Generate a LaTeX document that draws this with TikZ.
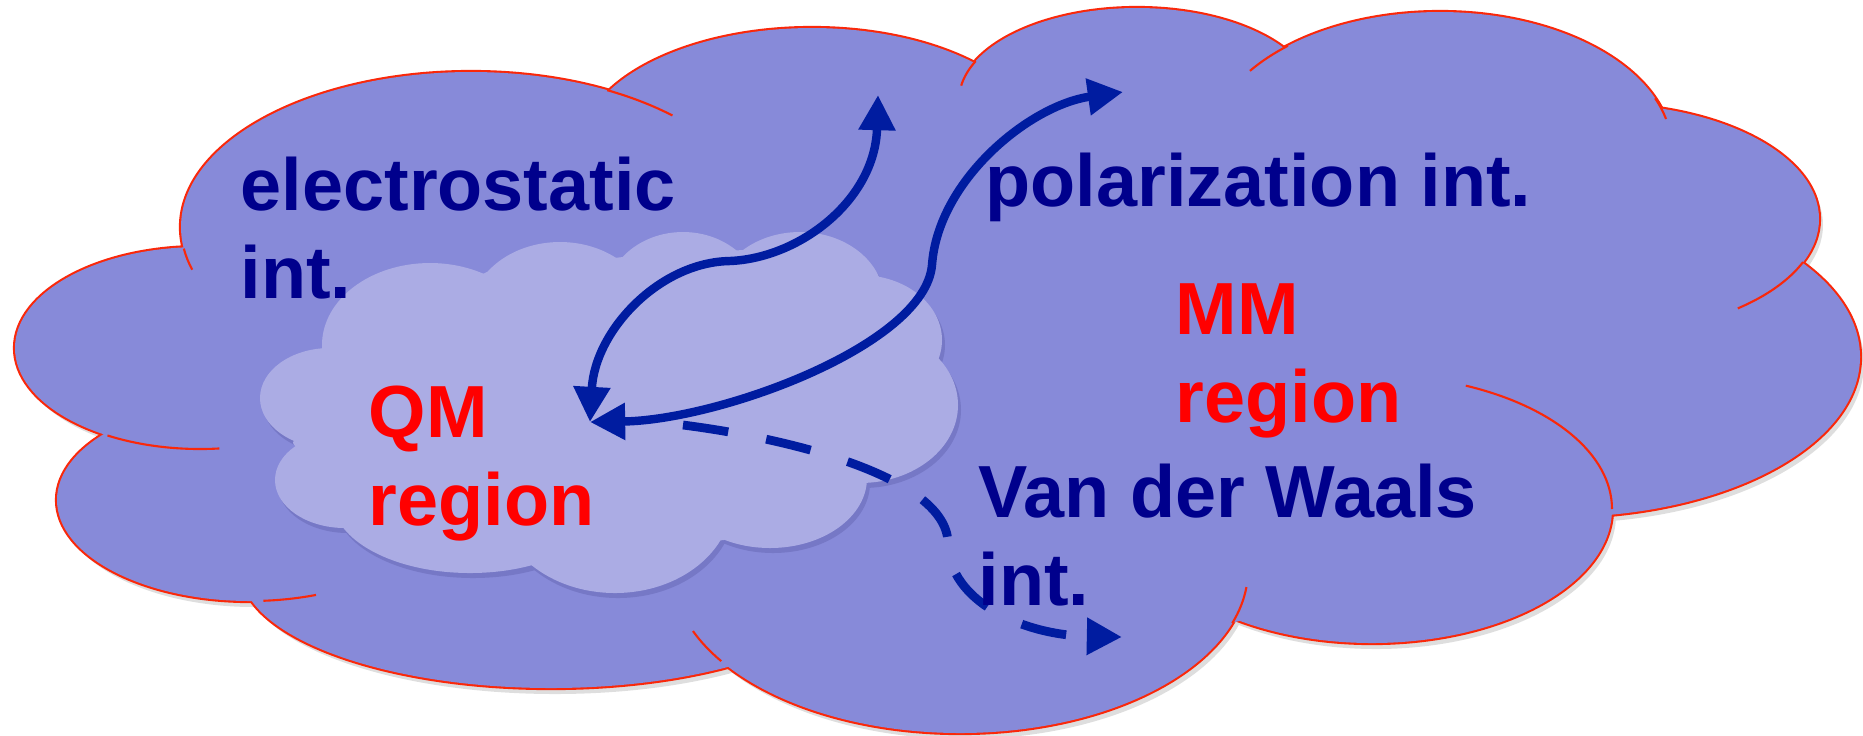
\documentclass[tikz,border=0pt]{standalone}
\usepackage{fontspec}
\setmainfont{Liberation Sans}
\usepackage{tikz}
\usetikzlibrary{arrows.meta}
\definecolor{mmblue}{RGB}{135,138,217}
\definecolor{qmblue}{RGB}{171,172,228}
\definecolor{qmshade}{RGB}{118,120,198}
\definecolor{edgered}{RGB}{250,40,10}
\definecolor{txtnavy}{RGB}{0,0,140}
\definecolor{arrblue}{RGB}{0,28,160}
\tikzstyle{mm_shadow}=[fill=black!13]
\tikzstyle{mm_fill}=[fill=mmblue]
\tikzstyle{mm_edge}=[draw=edgered, line width=1.2pt]
\tikzstyle{mm_stub}=[draw=edgered, line width=0.6pt]
\tikzstyle{qm_shadow}=[fill=qmshade]
\tikzstyle{qm_fill}=[fill=qmblue]
\tikzstyle{txt_int}=[anchor=base west, inner sep=0pt, align=left, text=txtnavy,
    font=\fontsize{21pt}{25pt}\selectfont\bfseries]
\tikzstyle{txt_region}=[txt_int, text=red]
\tikzstyle{link}=[draw=arrblue, line width=2.4pt,
    {Triangle[length=10pt,width=10pt]}-{Triangle[length=10pt,width=10pt]}]
\tikzstyle{link_dashed}=[draw=arrblue, line width=2.5pt, dash pattern=on 13pt off 11pt,
    -{Triangle[length=10pt,width=10pt]}]
% lobes: centre x / centre y / x radius / y radius (pixels, y down)
\def\mmlobes{471/227/290/155, 812/150/232/122, 1137/100/178/92, 1440/150/232/138,
  1600/219/219/115, 1560/357/300/160, 1372/509/240/134, 960/570/288/163,
  551/570/310/118, 250/500/193/101, 200/348/185/101}
\def\mmcore{(183,248) -- (609,90) -- (973,62) -- (1286,47) -- (1652,100) -- (1801,263)
  -- (1612,511) -- (1232,623) -- (719,663) -- (265,597) -- (110,433) -- cycle}
\def\qmlobes{430/345/108/82, 560/315/90/73, 683/300/78/68, 800/300/84/68,
  860/340/82/65, 860/405/98/78, 770/478/97/70, 615/500/117/93,
  470/500/137/73, 345/480/70/48, 330/398/70/50}
\def\qmcore{(322,348) -- (487,272) -- (623,257) -- (743,250) -- (880,277) -- (938,360)
  -- (865,483) -- (724,540) -- (527,560) -- (353,528) -- (293,443) -- cycle}

\begin{document}
\begin{tikzpicture}[x=0.01cm, y=-0.01cm]
  \useasboundingbox (0,0) rectangle (1863,735);
  % MM region
  \foreach \cx/\cy/\rx/\ry in \mmlobes
    \fill[mm_shadow, shift={(4,6)}] (\cx,\cy) ellipse [x radius=\rx, y radius=\ry];
  \foreach \cx/\cy/\rx/\ry in \mmlobes
    \draw[mm_edge] (\cx,\cy) ellipse [x radius=\rx, y radius=\ry];
  \foreach \cx/\cy/\rx/\ry in \mmlobes
    \fill[mm_fill] (\cx,\cy) ellipse [x radius=\rx, y radius=\ry];
  \fill[mm_fill] \mmcore;
  \foreach \cx/\cy/\rx/\ry/\a/\b in {471/227/290/155/-62/-46, 471/227/290/155/164/172,
      1137/100/178/92/189/205, 1440/150/232/138/215/229, 1440/150/232/138/-22/-13,
      1600/219/219/115/22/51, 1372/509/240/134/-67/0, 960/570/288/163/6/19,
      960/570/288/163/146/158, 250/500/193/101/70/86, 200/348/185/101/84/120}
    \draw[mm_stub] (\cx,\cy) ++(\a:{\rx} and {\ry})
      arc [start angle=\a, end angle=\b, x radius=\rx, y radius=\ry];
  % QM region
  \begin{scope}[shift={(3,5)}]
    \foreach \cx/\cy/\rx/\ry in \qmlobes
      \fill[qm_shadow] (\cx,\cy) ellipse [x radius=\rx, y radius=\ry];
  \end{scope}
  \foreach \cx/\cy/\rx/\ry in \qmlobes
    \fill[qm_fill] (\cx,\cy) ellipse [x radius=\rx, y radius=\ry];
  \fill[qm_fill] \qmcore;

  \coordinate (tip0) at (878,95);
  \coordinate (tip1) at (590,422);
  \coordinate (tip2) at (1123,92);
  \coordinate (tip3) at (683,425);
  \coordinate (tip4) at (1122,637);
  \coordinate (bend0) at (730,261);
  \coordinate (bend1) at (932,265);
  \coordinate (bend2) at (948,545);
  \draw[link] (tip0) .. controls (875,200) and (800,258) .. (bend0)
    .. controls (660,262) and (595,330) .. (tip1);
  \draw[link] (tip2) .. controls (1030,105) and (938,180) .. (bend1)
    .. controls (925,345) and (720,420) .. (tip1);
  \draw[link_dashed] (tip3) .. controls (800,440) and (950,480) .. (bend2)
    .. controls (950,600) and (1020,635) .. (tip4);

  % base west of a two-line text is the baseline of its last line
  \node[txt_int] (lbl0) at (240,298) {electrostatic\\int.};
  \node[txt_int] (lbl1) at (985,206) {polarization int.};
  \node[txt_region] (lbl2) at (1175,422) {MM\\region};
  \node[txt_region] (lbl3) at (368,525) {QM\\region};
  \node[txt_int] (lbl4) at (978,605) {Van der Waals\\int.};
\end{tikzpicture}
\end{document}
